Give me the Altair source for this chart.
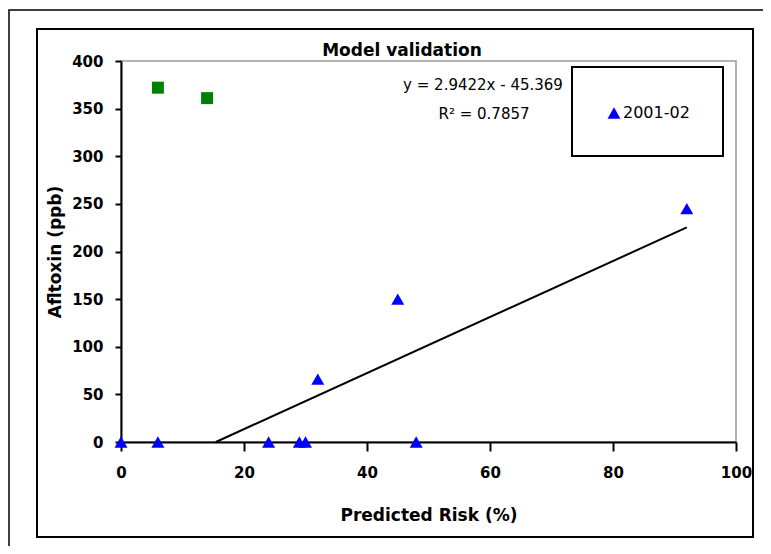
import altair as alt
import pandas as pd

# ---- data ----
title_text = "Model validation"
series_name = "2001-02"
risk_2001 = [0, 6, 24, 29, 30, 48, 32, 45, 92]
aflatoxin_2001 = [0, 0, 0, 0, 0, 0, 66, 150, 245]
risk_other = [6, 14]
aflatoxin_other = [372, 361]
trend_x = [15.42, 92.0]
trend_y = [0.0, 225.3]
x_ticks = [0, 20, 40, 60, 80, 100]
y_ticks = [0, 50, 100, 150, 200, 250, 300, 350, 400]
equation_text = "y = 2.9422x - 45.369"
r2_text = "R\u00b2 = 0.7857"
x_title = "Predicted Risk (%)"
y_title = "Afltoxin (ppb)"

FONT = "DejaVu Sans"

df_tri = pd.DataFrame({"risk": risk_2001, "aflatoxin": aflatoxin_2001,
                       "series": [series_name] * len(risk_2001)})
df_sq = pd.DataFrame({"risk": risk_other, "aflatoxin": aflatoxin_other})
df_trend = pd.DataFrame({"risk": trend_x, "aflatoxin": trend_y})
one = pd.DataFrame({"k": [0]})

x_enc = alt.X("risk:Q",
              scale=alt.Scale(domain=[0, 100], nice=False, zero=False),
              axis=alt.Axis(values=x_ticks, title=x_title, tickSize=9,
                            labelPadding=14, labelFlush=False,
                            titleFontSize=17, titleBaseline="middle", titleY=73))
y_enc = alt.Y("aflatoxin:Q",
              scale=alt.Scale(domain=[0, 400], nice=False),
              axis=alt.Axis(values=y_ticks, title=y_title, tickSize=6,
                            labelPadding=12, labelFlush=False,
                            titleFontSize=17, titleBaseline="middle",
                            titleX=-66, titleY=190.5, titleAngle=270))

tri = alt.Chart(df_tri).mark_point(
    shape="triangle-up", filled=True, size=169, opacity=1, strokeWidth=0
).encode(
    x=x_enc, y=y_enc,
    color=alt.Color("series:N",
                    scale=alt.Scale(domain=[series_name], range=["#0000FF"]),
                    legend=alt.Legend(title=None, orient="none", legendX=485, legendY=44,
                                      padding=0, symbolType="triangle-up", symbolSize=169,
                                      symbolStrokeWidth=0, symbolOpacity=1,
                                      labelFont=FONT, labelFontSize=16,
                                      labelColor="black", labelOffset=1))
)

sq = alt.Chart(df_sq).mark_point(
    shape="square", filled=True, size=144, opacity=1, color="#008000", strokeWidth=0
).encode(x="risk:Q", y="aflatoxin:Q")

trend = alt.Chart(df_trend).mark_line(color="black", strokeWidth=2).encode(
    x="risk:Q", y="aflatoxin:Q")

title = alt.Chart(one).mark_text(font=FONT, fontSize=17, fontWeight="bold", color="black",
                                 align="center", baseline="alphabetic").encode(
    x=alt.value(281), y=alt.value(-5), text=alt.value(title_text))
eq = alt.Chart(one).mark_text(font=FONT, fontSize=15, color="black",
                              align="center", baseline="middle").encode(
    x=alt.value(362), y=alt.value(24), text=alt.value(equation_text))
r2 = alt.Chart(one).mark_text(font=FONT, fontSize=15, color="black",
                              align="center", baseline="middle").encode(
    x=alt.value(363), y=alt.value(53), text=alt.value(r2_text))

legend_box = alt.Chart(one).mark_rect(filled=False, stroke="black", strokeWidth=2).encode(
    x=alt.value(451), x2=alt.value(602), y=alt.value(6), y2=alt.value(95))
inner_box = alt.Chart(one).mark_rect(filled=False, stroke="black", strokeWidth=2).encode(
    x=alt.value(-84), x2=alt.value(632), y=alt.value(-32), y2=alt.value(476))
outer_box = alt.Chart(one).mark_rect(filled=False, stroke="black", strokeWidth=1.5).encode(
    x=alt.value(-112), x2=alt.value(700), y=alt.value(-51), y2=alt.value(600))

chart = alt.layer(
    outer_box, inner_box, trend, sq, tri, title, eq, r2, legend_box
).properties(
    width=615, height=381,
    autosize=alt.AutoSizeParams(type="none"),
    padding={"left": 113, "top": 53, "right": 27, "bottom": 104},
    background="white",
).configure_axis(
    grid=False, domainColor="black", domainWidth=2, tickColor="black", tickWidth=2,
    labelFont=FONT, labelFontSize=15, labelFontWeight="bold", labelColor="black",
    titleFont=FONT, titleFontWeight="bold", titleColor="black",
).configure_view(
    stroke="#999999", strokeWidth=1.5
)

chart.save("out.html", embed_options={"renderer": "svg", "actions": False})
